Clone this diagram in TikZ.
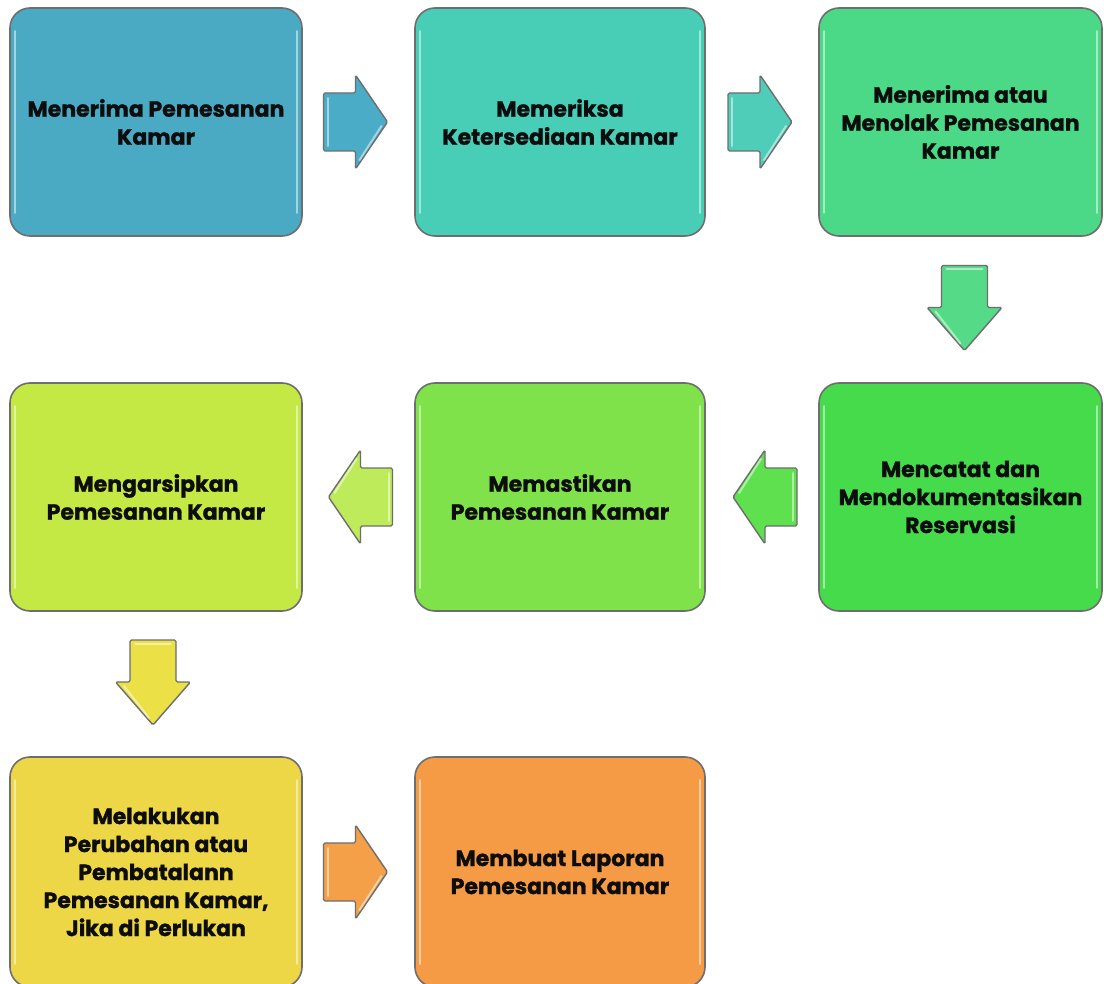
\documentclass[tikz,border=0pt]{standalone}
\usepackage{fontspec}
\setmainfont{Poppins}[BoldFeatures={FakeBold=1.2}]
\usetikzlibrary{calc}
\definecolor{cA}{HTML}{4AAAC4}
\definecolor{cB}{HTML}{48CEB6}
\definecolor{cC}{HTML}{4CD987}
\definecolor{cD}{HTML}{45DB4B}
\definecolor{cE}{HTML}{7FE24A}
\definecolor{cF}{HTML}{C5E944}
\definecolor{cG}{HTML}{EDD747}
\definecolor{cH}{HTML}{F59B46}
\definecolor{aA}{HTML}{4AACC6}
\definecolor{aB}{HTML}{4FCDB8}
\definecolor{aC}{HTML}{55DA88}
\definecolor{aD}{HTML}{5FE04E}
\definecolor{aE}{HTML}{BDEB5A}
\definecolor{aF}{HTML}{EBE045}
\definecolor{aH}{HTML}{F3A048}
\definecolor{edge}{HTML}{6E6E6E}
\tikzset{
  stepbox/.style={draw=edge, line width=1.6pt, rounded corners=20pt,
    minimum width=288pt, minimum height=228pt, align=center,
    text=black!95, font=\bfseries\fontsize{22}{28}\selectfont, inner sep=4pt},
  gloss/.style={white, opacity=0.5, line width=2pt, line cap=round},
  arrline/.style={draw=edge, line width=1.4pt, rounded corners=1.5pt, line join=round},
  pics/harrow/.style={code={
    \draw[arrline, fill=#1] (-32,-29) -- (0,-29) -- (0,-47) -- (32,0) -- (0,47) -- (0,29) -- (-32,29) -- cycle;
    \draw[gloss] (-28,-24) -- (-28,24);
    \draw[gloss] (4,38) -- (26,4);
  }},
  pics/varrow/.style={code={
    \draw[arrline, fill=#1] (-42,-23) -- (0,-23) -- (0,-37.5) -- (43,0) -- (0,37.5) -- (0,23) -- (-42,23) -- cycle;
    \draw[gloss] (-38,-18) -- (-38,18);
    \draw[gloss] (4,29) -- (36,4);
  }}
}
\newcommand{\boxgloss}[1]{%
  \draw[gloss] ($(#1.north west)+(6,24)$) -- ($(#1.south west)+(6,-24)$);
  \draw[gloss] ($(#1.north east)+(-6,24)$) -- ($(#1.south east)+(-6,-24)$);
}
\begin{document}
\begin{tikzpicture}[x=1pt, y=-1pt]
\useasboundingbox (0,0) rectangle (1104,984);
\clip (0,0) rectangle (1104,984);
\fill[white] (0,0) rectangle (1104,984);

\node[stepbox, fill=cA, minimum width=292pt] (b1) at (156,122) {Menerima Pemesanan\\Kamar};
\node[stepbox, fill=cB, minimum width=290pt] (b2) at (560,122) {Memeriksa\\Ketersediaan Kamar};
\node[stepbox, fill=cC, minimum width=283pt] (b3) at (960.5,122) {Menerima atau\\Menolak Pemesanan\\Kamar};

\node[stepbox, fill=cF, minimum width=292pt] (b4) at (156,497) {Mengarsipkan\\Pemesanan Kamar};
\node[stepbox, fill=cE, minimum width=290pt] (b5) at (560,497) {Memastikan\\Pemesanan Kamar};
\node[stepbox, fill=cD, minimum width=283pt] (b6) at (960.5,497) {Mencatat dan\\Mendokumentasikan\\Reservasi};

\node[stepbox, fill=cG, minimum width=292pt, minimum height=230pt] (b7) at (156,872) {Melakukan\\Perubahan atau\\Pembatalann\\Pemesanan Kamar,\\Jika di Perlukan};
\node[stepbox, fill=cH, minimum width=290pt, minimum height=230pt] (b8) at (560,872) {Membuat Laporan\\Pemesanan Kamar};

\foreach \b in {b1,b2,b3,b4,b5,b6,b7,b8} {\boxgloss{\b}}

\pic at ($(b1.east)!0.5!(b2.west)+(-3,0)$) {harrow=aA};
\pic at ($(b2.east)!0.5!(b3.west)+(-2,0)$) {harrow=aB};
\pic[rotate=-90] at ($(b3.south)!0.5!(b6.north)+(4,-2)$) {varrow=aC};
\pic[rotate=180] at ($(b6.west)!0.5!(b5.east)+(3,0)$) {harrow=aD};
\pic[rotate=180] at ($(b5.west)!0.5!(b4.east)+(2,0)$) {harrow=aE};
\pic[rotate=-90] at ($(b4.south)!0.5!(b7.north)+(-3,-2)$) {varrow=aF};
\pic at ($(b7.east)!0.5!(b8.west)+(-3,0)$) {harrow=aH};
\end{tikzpicture}
\end{document}
